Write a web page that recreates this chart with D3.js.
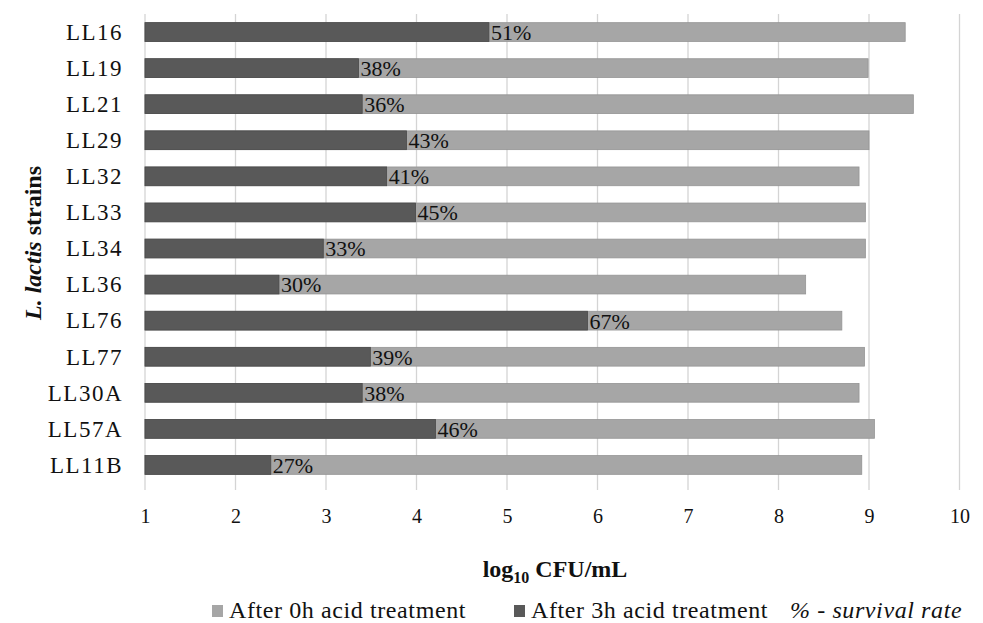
<!DOCTYPE html>
<html><head><meta charset="utf-8">
<script src="https://cdn.jsdelivr.net/npm/d3@7"></script>
<style>body{margin:0;background:#fff}svg{display:block}text{font-family:"Liberation Serif","Times New Roman",serif;fill:#111}</style>
</head><body><svg id="c" width="983" height="623"></svg>
<script>
const strains = ["LL16","LL19","LL21","LL29","LL32","LL33","LL34","LL36","LL76","LL77","LL30A","LL57A","LL11B"];
const after0h = [9.40,8.99,9.49,9.00,8.89,8.96,8.96,8.30,8.70,8.95,8.89,9.06,8.92];
const after3h = [4.80,3.36,3.40,3.89,3.67,3.99,2.97,2.48,5.89,3.49,3.40,4.21,2.39];
const survival = ["51%","38%","36%","43%","41%","45%","33%","30%","67%","39%","38%","46%","27%"];
const xTicks = [1,2,3,4,5,6,7,8,9,10];

const serif = '"Liberation Serif","Times New Roman",serif';
const svg = d3.select("#c");
const x = d3.scaleLinear().domain([1,10]).range([145,959.5]);
const y = d3.scaleBand().domain(strains).range([14,483]).paddingInner(0.48).paddingOuter(0.24);

// grid
svg.append("g").selectAll("line").data(xTicks).join("line")
  .attr("x1",d=>x(d)).attr("x2",d=>x(d)).attr("y1",14).attr("y2",490)
  .attr("stroke","#d4d4d4").attr("stroke-width",1.3);

// x axis labels
const xa = svg.append("g").attr("transform","translate(0,490)")
  .call(d3.axisBottom(x).tickValues(xTicks).tickSize(0).tickPadding(19).tickFormat(d3.format("d")));
xa.select(".domain").remove();
xa.selectAll("text").attr("font-size",20).style("font-family",serif).attr("fill","#111");

// y axis labels
const ya = svg.append("g").attr("transform","translate(123,0)")
  .call(d3.axisLeft(y).tickSize(0).tickPadding(0));
ya.select(".domain").remove();
ya.selectAll("text").attr("font-size",23).style("font-family",serif).style("letter-spacing","1.5px")
  .attr("fill","#111").attr("dy","0.34em");

// bars
const rows = strains.map((s,i)=>({s,a:after0h[i],b:after3h[i],p:survival[i]}));
svg.append("g").selectAll("rect").data(rows).join("rect")
  .attr("x",x(1)).attr("y",d=>y(d.s)).attr("width",d=>x(d.a)-x(1)).attr("height",y.bandwidth())
  .attr("fill","#a6a6a6").attr("stroke","#949494").attr("stroke-width",0.8);
svg.append("g").selectAll("rect").data(rows).join("rect")
  .attr("x",x(1)).attr("y",d=>y(d.s)).attr("width",d=>x(d.b)-x(1)).attr("height",y.bandwidth())
  .attr("fill","#595959").attr("stroke","#4a4a4a").attr("stroke-width",0.8);
svg.append("g").selectAll("text").data(rows).join("text")
  .attr("x",d=>x(d.b)+2).attr("y",d=>y(d.s)+y.bandwidth()/2).attr("dy","0.36em")
  .attr("font-size",22).text(d=>d.p);

// x title
const xt = svg.append("text").attr("x",555).attr("y",577).attr("text-anchor","middle")
  .attr("font-size",24).attr("font-weight","bold");
xt.append("tspan").text("log");
xt.append("tspan").attr("font-size",16).attr("dy",6).text("10");
xt.append("tspan").attr("dy",-6).text(" CFU/mL");

// y title
const yt = svg.append("text").attr("transform","translate(41,243) rotate(-90)").attr("text-anchor","middle")
  .attr("font-size",24).attr("font-weight","bold");
yt.append("tspan").attr("font-style","italic").text("L. lactis");
yt.append("tspan").text(" strains");

// legend
const legendItems = [{label:"After 0h acid treatment",color:"#a6a6a6",x:212},{label:"After 3h acid treatment",color:"#595959",x:514}];
const lg = svg.append("g");
lg.selectAll("rect").data(legendItems).join("rect")
  .attr("x",d=>d.x).attr("y",605).attr("width",11).attr("height",12).attr("fill",d=>d.color);
lg.selectAll("text").data(legendItems).join("text")
  .attr("x",d=>d.x+17).attr("y",618).attr("font-size",24).style("letter-spacing","0.6px").text(d=>d.label);
svg.append("text").attr("x",790).attr("y",618).attr("font-size",24).attr("font-style","italic")
  .style("letter-spacing","0.6px").text("% - survival rate");
</script></body></html>
